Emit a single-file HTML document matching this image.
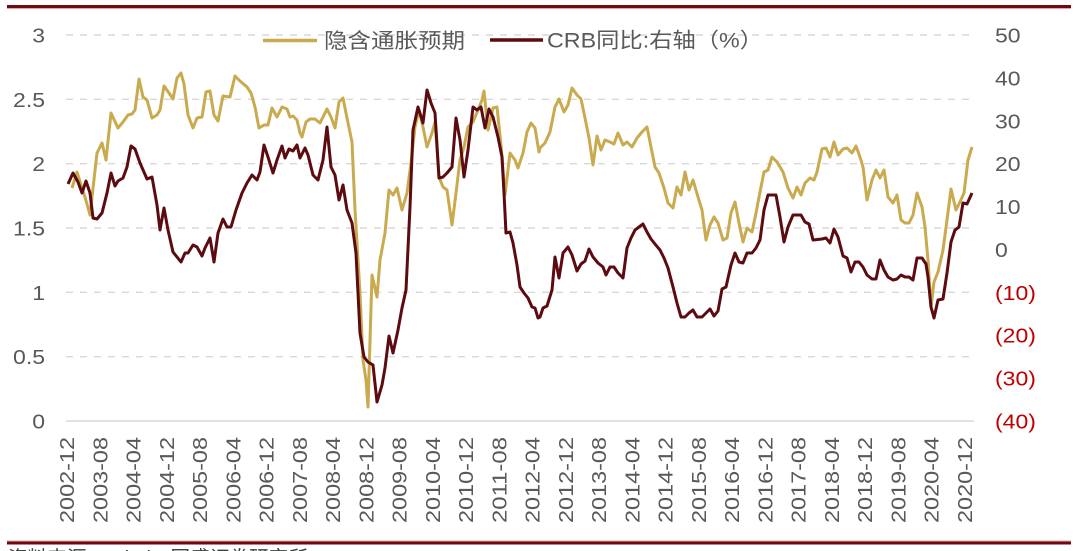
<!DOCTYPE html>
<html><head><meta charset="utf-8"><style>
html,body{margin:0;padding:0;background:#fff;}
svg{display:block;}
text{font-family:"Liberation Sans","Noto Sans CJK SC",sans-serif;}
</style></head><body>
<svg width="1080" height="551" viewBox="0 0 1080 551" xmlns="http://www.w3.org/2000/svg">
<rect width="1080" height="551" fill="#fff"/>
<!-- top cut-off title -->
<text x="10" y="-3" font-size="20" fill="#404040" textLength="480" lengthAdjust="spacingAndGlyphs">图表：隐含通胀预期与CRB同比走势（%）</text>
<!-- top rule -->
<rect x="7" y="5" width="1064" height="3" fill="#6E0A12"/>
<rect x="7" y="8" width="1064" height="1" fill="#E8A0A0"/>
<!-- gridlines -->
<g stroke="#D9D9D9" stroke-width="1.4" stroke-dasharray="7 7">
<line x1="66" y1="35" x2="974" y2="35"/>
<line x1="66" y1="99.3" x2="974" y2="99.3"/>
<line x1="66" y1="163.7" x2="974" y2="163.7"/>
<line x1="66" y1="228" x2="974" y2="228"/>
<line x1="66" y1="292.3" x2="974" y2="292.3"/>
<line x1="66" y1="356.7" x2="974" y2="356.7"/>
</g>
<line x1="66" y1="421" x2="974" y2="421" stroke="#D9D9D9" stroke-width="1.6"/>
<!-- left axis labels -->
<g transform="translate(45 0) scale(1.15 1)" font-size="20" fill="#595959" text-anchor="end">
<text x="0" y="42.5">3</text>
<text x="0" y="106.8">2.5</text>
<text x="0" y="171.2">2</text>
<text x="0" y="235.5">1.5</text>
<text x="0" y="299.8">1</text>
<text x="0" y="364.2">0.5</text>
<text x="0" y="428.5">0</text>
</g>
<!-- right axis labels -->
<g transform="translate(995 0) scale(1.15 1)" font-size="20">
<text x="0" y="42.5" fill="#595959">50</text>
<text x="0" y="85.4" fill="#595959">40</text>
<text x="0" y="128.3" fill="#595959">30</text>
<text x="0" y="171.2" fill="#595959">20</text>
<text x="0" y="214.1" fill="#595959">10</text>
<text x="0" y="256.9" fill="#595959">0</text>
<text x="0" y="299.8" fill="#C00000">(10)</text>
<text x="0" y="342.7" fill="#C00000">(20)</text>
<text x="0" y="385.6" fill="#C00000">(30)</text>
<text x="0" y="428.5" fill="#C00000">(40)</text>
</g>
<!-- x axis labels -->
<g font-size="20" fill="#595959">
<text transform="translate(74.2 523) rotate(-90)" textLength="86" lengthAdjust="spacingAndGlyphs">2002-12</text>
<text transform="translate(107.45 523) rotate(-90)" textLength="86" lengthAdjust="spacingAndGlyphs">2003-08</text>
<text transform="translate(140.7 523) rotate(-90)" textLength="86" lengthAdjust="spacingAndGlyphs">2004-04</text>
<text transform="translate(173.95 523) rotate(-90)" textLength="86" lengthAdjust="spacingAndGlyphs">2004-12</text>
<text transform="translate(207.2 523) rotate(-90)" textLength="86" lengthAdjust="spacingAndGlyphs">2005-08</text>
<text transform="translate(240.45 523) rotate(-90)" textLength="86" lengthAdjust="spacingAndGlyphs">2006-04</text>
<text transform="translate(273.7 523) rotate(-90)" textLength="86" lengthAdjust="spacingAndGlyphs">2006-12</text>
<text transform="translate(306.95 523) rotate(-90)" textLength="86" lengthAdjust="spacingAndGlyphs">2007-08</text>
<text transform="translate(340.2 523) rotate(-90)" textLength="86" lengthAdjust="spacingAndGlyphs">2008-04</text>
<text transform="translate(373.45 523) rotate(-90)" textLength="86" lengthAdjust="spacingAndGlyphs">2008-12</text>
<text transform="translate(406.7 523) rotate(-90)" textLength="86" lengthAdjust="spacingAndGlyphs">2009-08</text>
<text transform="translate(439.95 523) rotate(-90)" textLength="86" lengthAdjust="spacingAndGlyphs">2010-04</text>
<text transform="translate(473.2 523) rotate(-90)" textLength="86" lengthAdjust="spacingAndGlyphs">2010-12</text>
<text transform="translate(506.45 523) rotate(-90)" textLength="86" lengthAdjust="spacingAndGlyphs">2011-08</text>
<text transform="translate(539.7 523) rotate(-90)" textLength="86" lengthAdjust="spacingAndGlyphs">2012-04</text>
<text transform="translate(572.95 523) rotate(-90)" textLength="86" lengthAdjust="spacingAndGlyphs">2012-12</text>
<text transform="translate(606.2 523) rotate(-90)" textLength="86" lengthAdjust="spacingAndGlyphs">2013-08</text>
<text transform="translate(639.45 523) rotate(-90)" textLength="86" lengthAdjust="spacingAndGlyphs">2014-04</text>
<text transform="translate(672.7 523) rotate(-90)" textLength="86" lengthAdjust="spacingAndGlyphs">2014-12</text>
<text transform="translate(705.95 523) rotate(-90)" textLength="86" lengthAdjust="spacingAndGlyphs">2015-08</text>
<text transform="translate(739.2 523) rotate(-90)" textLength="86" lengthAdjust="spacingAndGlyphs">2016-04</text>
<text transform="translate(772.45 523) rotate(-90)" textLength="86" lengthAdjust="spacingAndGlyphs">2016-12</text>
<text transform="translate(805.7 523) rotate(-90)" textLength="86" lengthAdjust="spacingAndGlyphs">2017-08</text>
<text transform="translate(838.95 523) rotate(-90)" textLength="86" lengthAdjust="spacingAndGlyphs">2018-04</text>
<text transform="translate(872.2 523) rotate(-90)" textLength="86" lengthAdjust="spacingAndGlyphs">2018-12</text>
<text transform="translate(905.45 523) rotate(-90)" textLength="86" lengthAdjust="spacingAndGlyphs">2019-08</text>
<text transform="translate(938.7 523) rotate(-90)" textLength="86" lengthAdjust="spacingAndGlyphs">2020-04</text>
<text transform="translate(971.95 523) rotate(-90)" textLength="86" lengthAdjust="spacingAndGlyphs">2020-12</text>
</g>
<!-- gold series -->
<polyline fill="none" stroke="#C9AA4E" stroke-width="3" stroke-linejoin="round" points="72,188 77,172 81,185 85,197 90,215 97,153 102,143 106,160 111,113 118,128 123,122 128,115 132,114 135,110 139,79 143,97 147,100 152,118 157,115 160,110 164,86 169,93 173,99 177,78 181,73 184,84 188,115 193,128 197,118 202,117 206,92 210,91 214,115 218,121 223,96 230,97 235,76 240,81 247,87 251,93 255,107 259,128 264,125 268,125 272,108 277,117 282,107 287,109 290,117 293,116 297,120 300,133 302,137 306,122 310,119 315,119 320,123 327,109 331,117 335,128 339,102 343,98 347,118 352,142 355,210 360,293 363,360 366,380 368,407 372,275 377,297 380,260 385,233 389,190 393,195 397,188 402,210 407,193 411,163 415,127 419,110 423,127 427,147 432,133 435,122 439,177 443,187 447,190 452,225 456,193 460,160 464,147 468,127 473,122 478,110 482,100 484,91 488,130 493,108 497,107 501,145 505,195 510,153 515,160 518,168 523,153 527,132 531,123 535,128 539,152 540,148 545,143 550,132 555,107 559,99 564,112 568,105 572,88 577,95 581,99 585,118 589,138 593,165 597,136 601,150 605,140 610,142 614,144 618,133 623,145 627,142 632,147 637,138 642,132 647,127 651,147 655,167 659,173 664,188 668,203 673,208 677,187 681,195 685,172 689,190 693,180 698,197 702,210 706,240 710,225 714,217 718,223 723,240 727,238 731,213 735,202 739,223 743,242 747,228 752,232 756,213 760,192 764,172 768,170 772,157 777,162 783,172 788,188 793,198 797,187 801,195 805,183 810,178 814,180 817,172 822,149 826,148 830,157 834,142 838,155 843,149 847,148 852,153 856,146 860,157 863,167 867,200 872,180 876,170 880,178 884,170 888,197 893,203 897,195 901,220 905,223 909,223 913,215 917,193 922,207 925,227 928,260 931,307 934,282 938,272 943,250 947,220 951,189 956,210 960,202 964,193 968,160 972,147"/>
<!-- dark red series -->
<polyline fill="none" stroke="#5C0B10" stroke-width="3" stroke-linejoin="round" points="68,184 73,173 78,182 82,193 86,181 90,193 93,218 97,219 102,213 107,193 111,173 115,186 118,181 123,178 127,167 131,146 135,149 140,163 147,179 152,177 157,205 160,230 164,208 168,230 173,252 181,262 185,253 188,253 193,245 197,247 202,256 205,248 210,238 214,262 218,233 223,219 227,227 231,227 236,210 242,193 247,183 252,175 257,180 260,172 264,145 268,157 273,173 277,160 282,146 285,158 289,149 293,151 297,145 300,158 305,148 308,155 313,175 318,180 323,160 327,127 331,167 335,175 339,200 343,185 347,210 352,223 356,253 360,333 364,357 368,362 373,365 377,402 382,385 385,368 389,336 393,353 398,330 402,308 406,290 410,207 413,130 418,107 423,123 427,90 431,103 435,113 439,178 443,177 447,173 452,167 456,118 460,140 464,177 468,150 473,107 477,110 481,107 485,128 489,109 493,117 498,137 502,157 504,193 506,233 510,232 513,243 517,265 520,287 524,293 528,298 532,307 535,308 538,318 540,317 543,308 547,306 552,290 555,257 559,278 563,253 568,247 572,255 577,271 581,264 585,261 589,249 593,257 598,263 603,267 606,275 610,267 614,267 618,273 623,278 627,248 631,238 635,230 639,227 643,224 647,232 651,239 655,244 660,250 664,258 668,268 673,287 677,303 681,317 685,317 689,313 693,310 697,317 702,317 706,313 710,309 714,316 718,311 722,289 726,287 731,265 735,253 739,262 743,263 747,253 752,253 756,248 760,240 764,210 768,195 776,195 780,217 784,242 788,227 793,215 801,215 805,222 809,224 813,240 822,239 826,238 830,243 834,229 838,237 843,256 847,258 851,272 855,262 859,262 863,267 867,275 872,279 876,279 880,260 884,270 888,277 893,280 897,279 901,275 905,277 909,277 913,280 917,258 922,258 926,264 928,277 931,307 934,318 938,300 943,299 947,273 951,242 955,230 959,227 963,203 967,204 972,193"/>
<!-- legend -->
<line x1="263" y1="40.5" x2="317" y2="40.5" stroke="#C9AA4E" stroke-width="3.5"/>
<text x="324" y="48" font-size="21" fill="#595959" textLength="141" lengthAdjust="spacingAndGlyphs">隐含通胀预期</text>
<line x1="490" y1="40" x2="543" y2="40" stroke="#5C0B10" stroke-width="3.5"/>
<text x="547" y="47.5" font-size="21" fill="#595959" textLength="216" lengthAdjust="spacingAndGlyphs">CRB同比:右轴（%）</text>
<!-- bottom rule -->
<rect x="7" y="540.5" width="1064" height="1" fill="#E8A0A0"/>
<rect x="7" y="541.5" width="1064" height="3" fill="#6E0A12"/>
<text x="8" y="565" font-size="20" fill="#404040" textLength="300" lengthAdjust="spacingAndGlyphs">资料来源：Wind，国盛证券研究所</text>
</svg>
</body></html>
